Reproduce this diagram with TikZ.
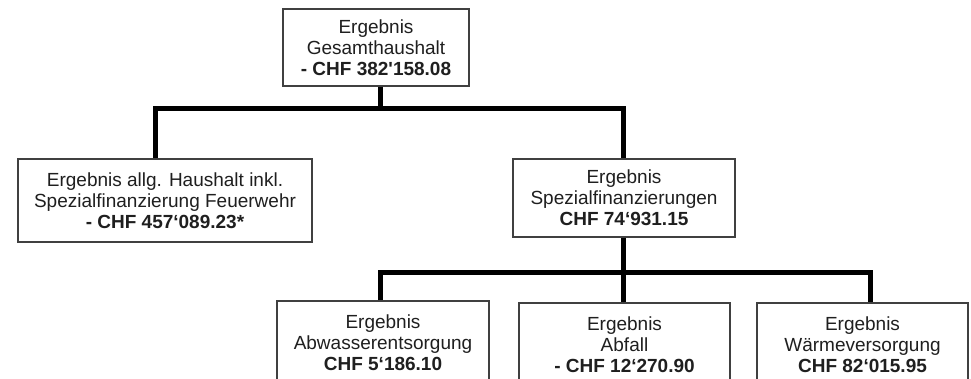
\documentclass[tikz,border=0pt]{standalone}
\usepackage{fontspec}
\setmainfont{Liberation Sans}
\begin{document}
\begin{tikzpicture}[x=1pt,y=-1pt,
  box/.style={draw=black!75, line width=1.3pt, fill=white, rectangle, inner sep=0pt,
    align=center, text=black!88, font=\fontsize{19}{21}\selectfont},
  conn/.style={draw=black, line width=5pt}]
\clip (0,0) rectangle (971,378);
\fill[white] (0,0) rectangle (971,378);
% connectors first so boxes sit on top
\coordinate (bus1) at (380,108);
\coordinate (bus2) at (623,272);
\node[box, minimum width=186, minimum height=77] (top) at (376,47.5)
  {Ergebnis\\Gesamthaushalt\\\textbf{- CHF 382\textquotesingle158.08}};
\node[box, minimum width=294, minimum height=83] (left) at (165,200.5)
  {Ergebnis allg. Haushalt inkl.\\Spezialfinanzierung Feuerwehr\\\textbf{- CHF 457‘089.23*}};
\node[box, minimum width=222, minimum height=78] (spez) at (624,198)
  {Ergebnis\\Spezialfinanzierungen\\\textbf{CHF 74‘931.15}};
\node[box, minimum width=212, minimum height=84] (b1) at (383,343)
  {Ergebnis\\Abwasserentsorgung\\\textbf{CHF 5‘186.10}};
\node[box, minimum width=211, minimum height=84] (b2) at (624.5,345)
  {Ergebnis\\Abfall\\\textbf{- CHF 12‘270.90}};
\node[box, minimum width=211, minimum height=84] (b3) at (862.5,345)
  {Ergebnis\\Wärmeversorgung\\\textbf{CHF 82‘015.95}};
\draw[conn] ([xshift=4pt]top.south) -- (bus1);
\draw[conn] ([xshift=-10pt]left.north) |- (bus1) -| ([xshift=-1pt]spez.north);
\draw[conn] ([xshift=-1pt]spez.south) -- ([xshift=-1.5pt]b2.north);
\draw[conn] ([xshift=-3pt]b1.north) |- (bus2) -| ([xshift=7.5pt]b3.north);
\end{tikzpicture}
\end{document}
